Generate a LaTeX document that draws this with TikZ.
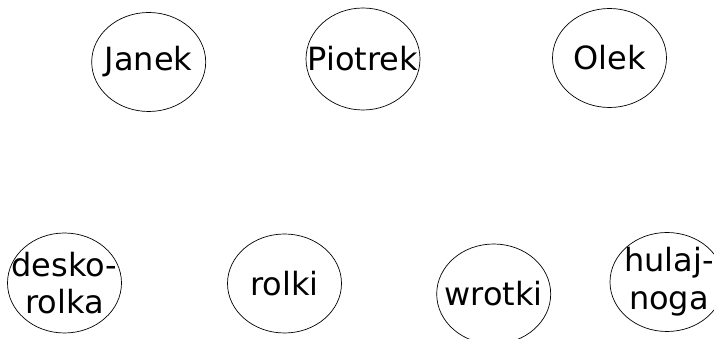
\documentclass[tikz,border=0pt]{standalone}
\usepackage{fontspec}
\setmainfont{DejaVu Sans}
\usetikzlibrary{shapes.geometric}
\tikzset{
  ell/.style={draw, ellipse, line width=0.7pt, minimum width=114pt, minimum height=99pt, inner sep=0pt, outer sep=0pt},
  lbl/.style={inner sep=0pt, align=center, font=\fontsize{32}{37.7}\selectfont}
}
\begin{document}
\begin{tikzpicture}[x=1pt,y=1pt]
\useasboundingbox (0,0) rectangle (714,339);
\node[ell] (janek) at (148.7,277) {};
\node[lbl] (janekt) at (janek.center) {Janek};
\node[ell, minimum height=102pt] (piotrek) at (363,280) {};
\node[lbl] (piotrekt) at (piotrek.center) {Piotrek};
\node[ell] (olek) at (609.5,281) {};
\node[lbl] (olekt) at (olek.center) {Olek};
\node[ell, minimum height=100pt] (desk) at (64.5,56) {};
\node[lbl] (deskt) at (desk.center) {desko-\\rolka};
\node[ell] (rolki) at (284.5,55.5) {};
\node[lbl] (rolkit) at (rolki.center) {rolki};
\node[ell, minimum height=100pt] (wrotki) at (493.7,45) {};
\node[lbl] (wrotkit) at (wrotki.center) {wrotki};
\node[ell] (hulaj) at (667,57) {};
\node[lbl] (hulajt) at (669,57) {hulaj-\\noga};
\end{tikzpicture}
\end{document}
